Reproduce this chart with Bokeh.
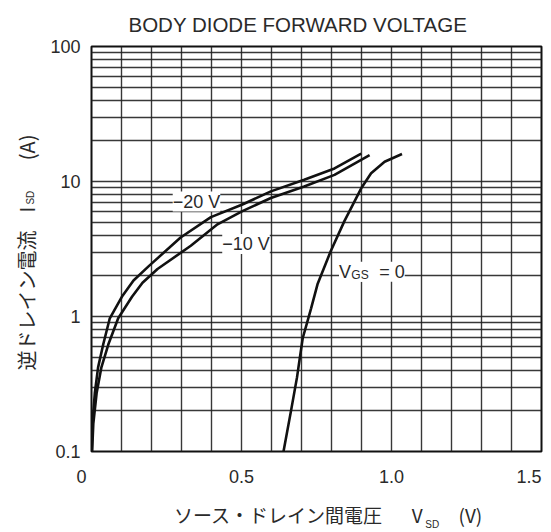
from bokeh.plotting import figure
from bokeh.models import FixedTicker, Label, Title, LinearAxis, LogAxis
from bokeh.embed import file_html
from bokeh.resources import INLINE

title_text = "BODY DIODE FORWARD VOLTAGE"
x_ticks = [0.0, 0.5, 1.0, 1.5]
x_tick_labels = ["0", "0.5", "1.0", "1.5"]
y_ticks = [0.1, 1, 10, 100]
y_tick_labels = ["0.1", "1", "10", "100"]
x_grid = [0.0, 0.1, 0.2, 0.3, 0.4, 0.5, 0.6, 0.7, 0.8, 0.9, 1.0, 1.1, 1.2, 1.3, 1.4, 1.5]
y_grid = [0.1, 0.2, 0.3, 0.4, 0.5, 0.6, 0.7, 0.8, 0.9,
          1, 2, 3, 4, 5, 6, 7, 8, 9,
          10, 20, 30, 40, 50, 60, 70, 80, 90, 100]

# axis titles, split in pieces so that the subscripts can be smaller
x_title_parts = ["ソース・ドレイン間電圧", "V", "(V)"]
x_title_sub = ["SD"]
y_title_parts = ["逆ドレイン電流", "I", "(A)"]
y_title_sub = ["SD"]

# VGS = -20 V
vsd_m20 = [0.001, 0.003, 0.011, 0.022, 0.039, 0.061, 0.103, 0.14, 0.19, 0.297, 0.398, 0.503, 0.598, 0.709, 0.81, 0.899]
isd_m20 = [0.10, 0.16, 0.27, 0.42, 0.62, 0.97, 1.42, 1.85, 2.35, 3.85, 5.45, 6.75, 8.45, 10.3, 12.5, 16.1]
# VGS = -10 V
vsd_m10 = [0.002, 0.006, 0.017, 0.033, 0.056, 0.089, 0.135, 0.17, 0.22, 0.331, 0.42, 0.503, 0.598, 0.709, 0.81, 0.927]
isd_m10 = [0.10, 0.16, 0.27, 0.42, 0.62, 0.97, 1.40, 1.78, 2.25, 3.34, 4.82, 6.03, 7.55, 9.18, 11.2, 15.7]
# VGS = 0
vsd_0 = [0.64, 0.665, 0.685, 0.704, 0.732, 0.754, 0.798, 0.843, 0.899, 0.932, 0.977, 1.035]
isd_0 = [0.10, 0.20, 0.354, 0.69, 1.15, 1.75, 3.07, 5.09, 8.9, 11.5, 14.0, 16.0]

LAT = "Liberation Sans"
JP = "Noto Sans CJK JP"
TXT = "#2a2a2a"
NB = "\u00a0"

p = figure(width=551, height=532, x_range=(0, 1.5), y_range=(0.1, 100),
           y_axis_type="log", x_axis_location=None,
           output_backend="svg", toolbar_location=None, tools="")
p.min_border_left = 91
p.min_border_right = 10
p.min_border_top = 45
p.min_border_bottom = 77
p.background_fill_color = "white"
p.border_fill_color = "white"
p.outline_line_color = "#111111"
p.outline_line_width = 2

# title
p.add_layout(Title(text=title_text, align="left", offset=37, standoff=21,
                   text_font=LAT, text_font_size="20.5px", text_font_style="normal",
                   text_color=TXT), "above")

# grid
p.xgrid.ticker = FixedTicker(ticks=x_grid)
p.ygrid.ticker = FixedTicker(ticks=y_grid)
for g in (p.xgrid, p.ygrid):
    g.grid_line_color = "#222222"
    g.grid_line_width = 1.4
    g.grid_line_alpha = 0.9


def plain(ax, font, size, standoff):
    ax.major_tick_out = 0
    ax.major_tick_in = 0
    ax.minor_tick_out = 0
    ax.minor_tick_in = 0
    ax.major_tick_line_color = None
    ax.minor_tick_line_color = None
    ax.axis_line_color = None
    ax.major_label_standoff = standoff
    ax.major_label_text_font = font
    ax.major_label_text_font_size = size
    ax.major_label_text_color = TXT


# y axis (tick labels)
ya = p.yaxis[0]
ya.ticker = FixedTicker(ticks=y_ticks)
ya.major_label_overrides = dict(zip(y_ticks, y_tick_labels))
plain(ya, LAT, "18px", 11)

# x axis (tick labels); the end labels sit a little inside the frame as in the original
x_label_text = ["0" + NB * 4, "0.5", "1.0", "1.5" + NB * 2]
xa = LinearAxis(ticker=FixedTicker(ticks=x_ticks),
                major_label_overrides=dict(zip(x_ticks, x_label_text)))
plain(xa, LAT, "18px", 15)
p.add_layout(xa, "below")

# x axis title: main row + subscript row
x_title_pos = [0.623, 1.086, 1.263]
x_sub_pos = [1.136]
xt = LinearAxis(ticker=FixedTicker(ticks=x_title_pos),
                major_label_overrides=dict(zip(x_title_pos, x_title_parts)))
plain(xt, JP, "19px", 11)
p.add_layout(xt, "below")
xs_ = LinearAxis(ticker=FixedTicker(ticks=x_sub_pos),
                 major_label_overrides=dict(zip(x_sub_pos, x_title_sub)))
plain(xs_, LAT, "10px", -12)
p.add_layout(xs_, "below")

# y axis title: main row + subscript row (rotated, reading upwards)
y_title_pos = [1.315, 6.2, 17.9]
y_sub_pos = [7.59]
yt = LogAxis(ticker=FixedTicker(ticks=y_title_pos),
             major_label_overrides=dict(zip(y_title_pos, y_title_parts)),
             major_label_orientation="parallel")
plain(yt, JP, "20px", 6)
p.add_layout(yt, "left")
ys_ = LogAxis(ticker=FixedTicker(ticks=y_sub_pos),
              major_label_overrides=dict(zip(y_sub_pos, y_title_sub)),
              major_label_orientation="parallel")
plain(ys_, LAT, "10px", -27)
p.add_layout(ys_, "left")

# curves
for xs, ys in ((vsd_m20, isd_m20), (vsd_m10, isd_m10), (vsd_0, isd_0)):
    p.line(xs, ys, line_color="#111111", line_width=2.6)

# curve annotations
p.add_layout(Label(x=0.35, y=7.1, text="−20 V", text_align="center", text_baseline="middle",
                   text_font=LAT, text_font_size="18px", text_color=TXT,
                   background_fill_color="white", background_fill_alpha=1.0))
p.add_layout(Label(x=0.515, y=3.44, text="−10 V", text_align="center", text_baseline="middle",
                   text_font=LAT, text_font_size="18px", text_color=TXT,
                   background_fill_color="white", background_fill_alpha=1.0))
p.add_layout(Label(x=0.825, y=2.145, text="V" + NB * 6, text_align="left", text_baseline="alphabetic",
                   text_font=LAT, text_font_size="18px", text_color=TXT,
                   background_fill_color="white", background_fill_alpha=1.0))
p.add_layout(Label(x=0.866, y=2.04, text="GS", text_align="left", text_baseline="alphabetic",
                   text_font=LAT, text_font_size="12px", text_color=TXT,
                   background_fill_color="white", background_fill_alpha=1.0))
p.add_layout(Label(x=0.959, y=2.145, text="= 0", text_align="left", text_baseline="alphabetic",
                   text_font=LAT, text_font_size="18px", text_color=TXT,
                   background_fill_color="white", background_fill_alpha=1.0))

open("out.html", "w").write(file_html(p, INLINE))
